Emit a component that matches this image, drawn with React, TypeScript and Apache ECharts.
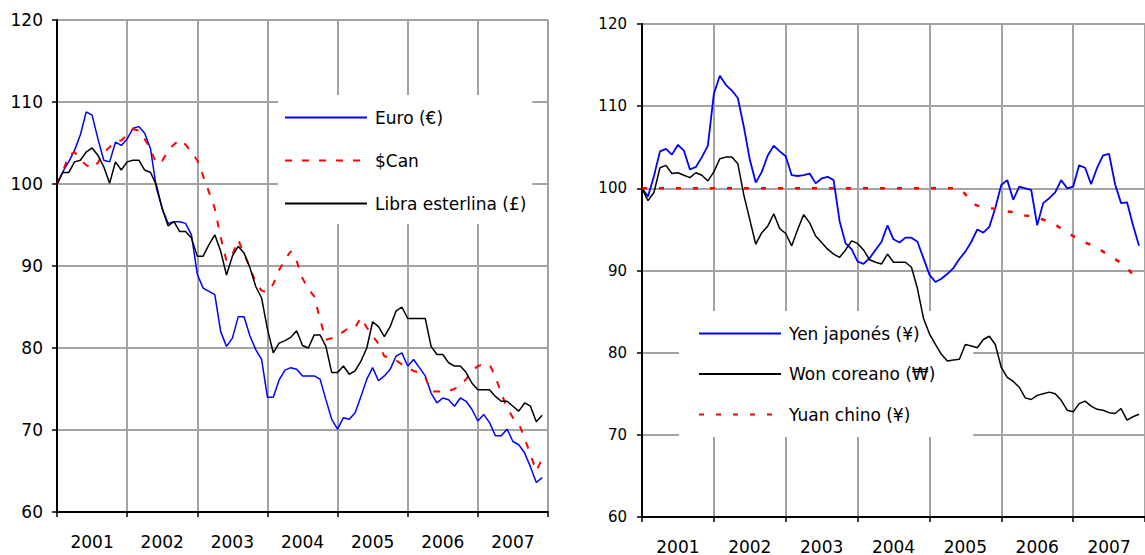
import React, { useEffect, useRef } from 'react';
import * as echarts from 'echarts';

const years = ['2001', '2002', '2003', '2004', '2005', '2006', '2007'];
const yTicks = { min: 60, max: 120, interval: 10 };

// Left panel (monthly, Jan 2001 = 100)
const euro = [100, 101.5, 102.7, 104.1, 106, 108.8, 108.4, 105.5, 102.9, 102.7, 105.1, 104.7,
  105.5, 106.8, 107, 106.2, 104.3, 99.5, 97, 95.2, 95.4, 95.4, 95.2, 93.8,
  89, 87.3, 86.9, 86.5, 82, 80.2, 81.2, 83.8, 83.8, 81.5, 79.8, 78.6,
  74, 74, 76.1, 77.3, 77.6, 77.4, 76.6, 76.6, 76.6, 76.2, 73.7, 71.3,
  70.1, 71.5, 71.3, 72.1, 74.1, 76.2, 77.6, 76, 76.6, 77.4, 79, 79.4,
  77.8, 78.6, 77.6, 76.6, 74.5, 73.3, 73.9, 73.7, 72.9, 73.9, 73.5, 72.5,
  71.1, 71.9, 70.9, 69.3, 69.3, 70.1, 68.6, 68.2, 67.2, 65.5, 63.6, 64.2];
const cad = [100, 101.5, 103.5, 103.9, 103, 102.3, 101.9, 102.6, 103.8, 104.5, 105.2, 105.3,
  106, 106.7, 106.5, 105.5, 104.2, 102.5, 102.8, 104.1, 104.8, 105.4, 104.8, 103.9,
  102.9, 101, 99, 97, 93.5, 90.6, 91.4, 93.2, 91.5, 89.8, 88, 87,
  86.8, 87.8, 89.5, 90.8, 91.8, 90.6, 88.5, 87.2, 86.3, 83.5, 81, 81.2,
  81.5, 82, 82.5, 82.5, 83.7, 82.5, 81.5, 80.5, 79, 78.8, 78.5, 78,
  77.6, 77.2, 77, 76.4, 74.7, 74.7, 74.7, 74.8, 75, 75.5, 76.2, 77.2,
  77.8, 78, 78, 76.5, 74.5, 72.7, 71.5, 70.8, 69, 67, 65, 66.5];
const libra = [100, 101.4, 101.4, 102.7, 102.9, 103.9, 104.4, 103.5, 102.1, 100.1, 102.7, 101.7,
  102.7, 102.9, 102.9, 101.7, 101.4, 99.9, 97, 94.9, 95.4, 94.2, 94.2, 93.4,
  91.2, 91.2, 92.6, 93.8, 91.8, 88.9, 91.2, 92.4, 91.6, 89.8, 87.5, 86.1,
  82.3, 79.4, 80.6, 80.9, 81.3, 82.1, 80.3, 80, 81.6, 81.6, 80.2, 77,
  77, 77.8, 76.8, 77.2, 78.4, 80, 83.2, 82.6, 81.4, 82.6, 84.5, 85,
  83.6, 83.6, 83.6, 83.6, 80.2, 79.2, 79.2, 78.2, 77.8, 77.8, 77, 75.7,
  74.9, 74.9, 74.9, 74.1, 73.5, 73.5, 72.9, 72.3, 73.3, 72.9, 71, 71.8];

// Right panel
const yen = [100, 99, 101.5, 104.5, 104.8, 104.1, 105.3, 104.6, 102.3, 102.6, 103.8, 105.2,
  111.5, 113.7, 112.6, 111.9, 111, 107.5, 103.5, 100.7, 102, 104, 105.2, 104.5,
  103.9, 101.6, 101.5, 101.6, 101.8, 100.6, 101.2, 101.4, 101, 96, 93.3, 92.6,
  91.1, 90.8, 91.5, 92.5, 93.5, 95.5, 93.8, 93.4, 94, 94, 93.5, 91.5,
  89.5, 88.6, 89, 89.6, 90.3, 91.4, 92.3, 93.5, 95, 94.6, 95.3, 97.6,
  100.4, 101, 98.6, 100.2, 100, 99.8, 95.5, 98.2, 98.8, 99.5, 101, 100,
  100.2, 102.8, 102.5, 100.5, 102.5, 104, 104.2, 100.5, 98.2, 98.3, 95.5, 93];
const won = [100, 98.5, 99.5, 102.5, 102.8, 101.8, 101.9, 101.6, 101.3, 101.9, 101.6, 100.9,
  102, 103.6, 103.8, 103.8, 103, 99.2, 96.2, 93.2, 94.6, 95.4, 96.9, 95.1,
  94.5, 93, 95, 96.8, 95.8, 94.2, 93.4, 92.6, 92, 91.6, 92.5, 93.6,
  93.3, 92.5, 91.3, 91, 90.8, 92, 91, 91, 91, 90.4, 87.8, 84.2,
  82.3, 81, 79.8, 79, 79.1, 79.2, 81, 80.8, 80.6, 81.6, 82, 81,
  78.2, 77, 76.5, 75.8, 74.5, 74.3, 74.8, 75, 75.2, 75, 74.2, 73,
  72.8, 73.8, 74.1, 73.5, 73.1, 73, 72.7, 72.6, 73.2, 71.8, 72.2, 72.5];
const yuan = [100, 100, 100, 100, 100, 100, 100, 100, 100, 100, 100, 100,
  100, 100, 100, 100, 100, 100, 100, 100, 100, 100, 100, 100,
  100, 100, 100, 100, 100, 100, 100, 100, 100, 100, 100, 100,
  100, 100, 100, 100, 100, 100, 100, 100, 100, 100, 100, 100,
  100, 100, 100, 100, 100, 100, 99.3, 98.2, 97.9, 97.7, 97.6, 97.5,
  97.4, 97.2, 97.1, 96.9, 96.7, 96.6, 96.4, 96.2, 95.9, 95.6, 95.1, 94.6,
  94.2, 93.8, 93.4, 93.1, 92.8, 92.3, 91.8, 91.4, 90.9, 90.3, 89.5, 89];

const monthsSpan = 84;
const toPoints = (arr: number[]) => arr.map((v, i) => [i, v]);

export default function App() {
  const ref = useRef<HTMLDivElement>(null);
  useEffect(() => {
    document.body.style.margin = '0';
    document.body.style.overflow = 'hidden';
    const chart = echarts.init(ref.current as HTMLDivElement, null, { renderer: 'svg' });
    const font = 'DejaVu Sans';
    const splitLine = { show: true, lineStyle: { color: '#a3a3a3', width: 2 } };
    const axisLine = { show: true, onZero: false, lineStyle: { color: '#000', width: 2 } };
    const axisTick = { show: true, length: 5, lineStyle: { color: '#000', width: 1.5 } };

    const catAxis = (gridIndex: number) => ({
      type: 'category', gridIndex, data: years, boundaryGap: true, position: 'bottom', z: 1,
      axisLine, axisTick: { ...axisTick, interval: 0 },
      axisLabel: { interval: 0, fontFamily: font, fontSize: 17, color: '#000', margin: 21 },
      splitLine: { ...splitLine, interval: 0 },
    });
    const valX = (gridIndex: number) => ({
      type: 'value', gridIndex, min: 0, max: monthsSpan, show: false, position: 'top',
    });
    const yAx = (gridIndex: number, fs: number, margin: number) => ({
      type: 'value', gridIndex, ...yTicks, axisLine, axisTick, z: 1,
      axisLabel: { fontFamily: font, fontSize: fs, color: '#000', margin },
      splitLine,
    });
    const line = (name: string, data: number[], xi: number, yi: number, color: string, type: any, width: number) => ({
      name, type: 'line', xAxisIndex: xi, yAxisIndex: yi, data: toPoints(data), symbol: 'none',
      lineStyle: { color, type, width }, itemStyle: { color }, z: 6,
    });
    const legendText = { fontFamily: font, fontSize: 17, color: '#000', padding: [0, 0, 0, 3] };
    const legendCommon = {
      orient: 'vertical', itemWidth: 82, itemHeight: 14, backgroundColor: '#fff',
      selectedMode: false, textStyle: legendText, z: 4,
      itemStyle: { opacity: 0 },
    };

    chart.setOption({
      animation: false,
      backgroundColor: '#fff',
      grid: [
        { left: 57, top: 20, width: 491, height: 492 },
        { left: 642, top: 24, width: 512, height: 493 },
      ],
      xAxis: [catAxis(0), valX(0), catAxis(1), valX(1)],
      yAxis: [yAx(0, 17, 14), yAx(1, 15, 15)],
      legend: [
        {
          ...legendCommon, left: 278, top: 95, padding: [14, 6, 12, 6], itemGap: 26,
          data: ['Euro (€)', '$Can', 'Libra esterlina (£)'],
        },
        {
          ...legendCommon, left: 679, top: 311, padding: [14, 38, 14, 19], itemGap: 23.5,
          data: ['Yen japonés (¥)', 'Won coreano (₩)', 'Yuan chino (¥)'],
        },
      ],
      series: [
        line('Euro (€)', euro, 1, 0, '#0000ff', 'solid', 1.5),
        line('$Can', cad, 1, 0, '#ff0000', [7, 10], 2),
        line('Libra esterlina (£)', libra, 1, 0, '#000000', 'solid', 1.5),
        line('Yen japonés (¥)', yen, 3, 1, '#0000ff', 'solid', 1.8),
        line('Won coreano (₩)', won, 3, 1, '#000000', 'solid', 1.5),
        line('Yuan chino (¥)', yuan, 3, 1, '#ff0000', [5, 12], 2.5),
      ],
    });
    return () => chart.dispose();
  }, []);
  return <div ref={ref} style={{ position: 'fixed', left: 0, top: 0, width: 1145, height: 555 }} />;
}
